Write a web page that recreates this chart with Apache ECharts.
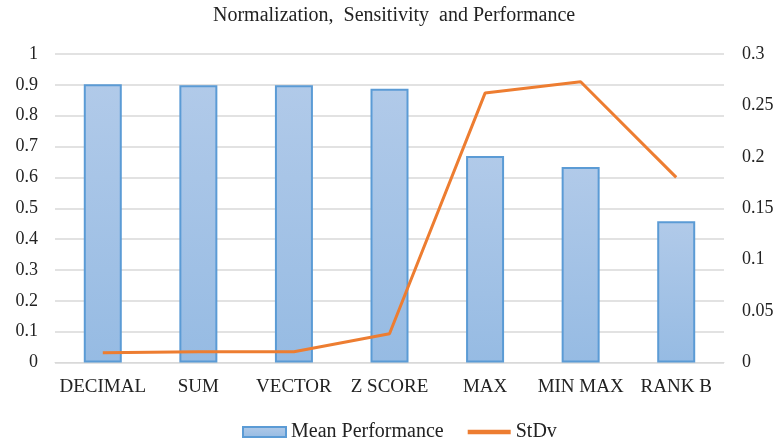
<!DOCTYPE html>
<html><head><meta charset="utf-8">
<script src="https://cdn.jsdelivr.net/npm/echarts@6/dist/echarts.min.js"></script>
<style>html,body{margin:0;padding:0;background:#fff}#c{width:777px;height:443px}</style>
</head><body><div id="c"></div>
<script>
var categories = ['DECIMAL','SUM','VECTOR','Z SCORE','MAX','MIN MAX','RANK B'];
var meanPerformance = [0.902, 0.899, 0.899, 0.887, 0.669, 0.634, 0.458];
var stDv = [0.0095, 0.0105, 0.0105, 0.028, 0.262, 0.273, 0.180];
var chart = echarts.init(document.getElementById('c'));
var font = 'Liberation Serif';
chart.setOption({
  animation: false,
  title: {text: 'Normalization,  Sensitivity  and Performance', left: 213, top: 6, padding: 0,
    textStyle: {fontFamily: font, fontSize: 20, fontWeight: 'normal', color: '#222'}},
  legend: {bottom: 1, left: 242, padding: 0, itemGap: 24, itemWidth: 43, itemHeight: 10,
    textStyle: {fontFamily: font, fontSize: 20, color: '#222'},
    data: [{name: 'Mean Performance', icon: 'rect'}, {name: 'StDv', icon: 'path://M0,0 L10,0 L10,1 L0,1 Z'}]},
  grid: {left: 55, right: 53, top: 54, bottom: 80.5},
  xAxis: {type: 'category', data: categories,
    axisLine: {lineStyle: {color: '#d9d9d9', width: 1}}, axisTick: {show: false},
    axisLabel: {fontFamily: font, fontSize: 19, color: '#222', margin: 15, interval: 0}},
  yAxis: [
    {type: 'value', min: 0, max: 1, interval: 0.1,
      axisLine: {show: false}, axisTick: {show: false},
      splitLine: {lineStyle: {color: '#d9d9d9', width: 1.5}},
      axisLabel: {fontFamily: font, fontSize: 18, color: '#222', margin: 17,
        formatter: function(v){return +v.toFixed(1) + '';}}},
    {type: 'value', min: 0, max: 0.3, interval: 0.05,
      axisLine: {show: false}, axisTick: {show: false}, splitLine: {show: false},
      axisLabel: {fontFamily: font, fontSize: 18, color: '#222', margin: 18,
        formatter: function(v){return +v.toFixed(2) + '';}}}
  ],
  series: [
    {name: 'Mean Performance', type: 'bar', data: meanPerformance, barWidth: 38,
      itemStyle: {borderColor: '#5b9bd5', borderWidth: 2,
        color: new echarts.graphic.LinearGradient(0,0,0,1,[{offset:0,color:'#b1cae9'},{offset:1,color:'#96bbe3'}])}},
    {name: 'StDv', type: 'line', yAxisIndex: 1, data: stDv, symbol: 'none',
      lineStyle: {color: '#ed7d31', width: 3}, itemStyle: {color: '#ed7d31'}}
  ]
});
</script></body></html>
